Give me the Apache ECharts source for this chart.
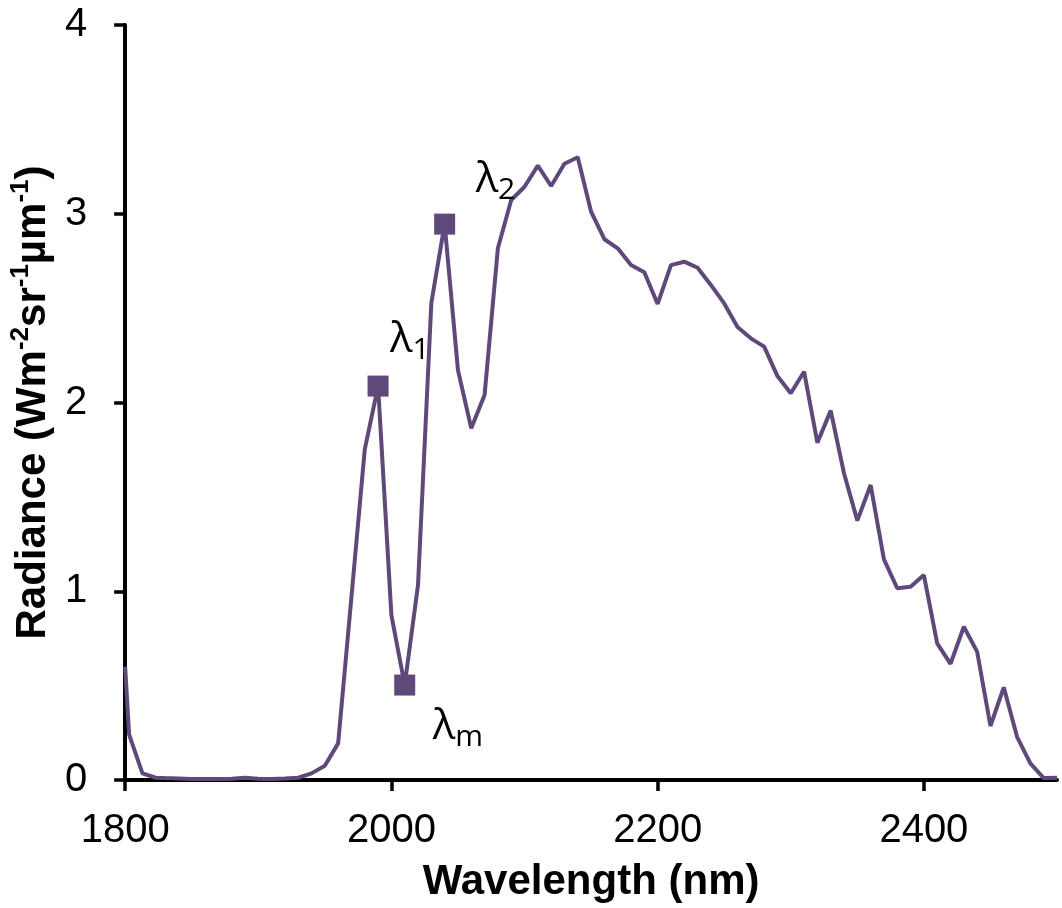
<!DOCTYPE html>
<html>
<head>
<meta charset="utf-8">
<title>Radiance spectrum</title>
<script src="https://cdn.jsdelivr.net/npm/echarts@6/dist/echarts.min.js"></script>
<style>
  html, body { margin: 0; padding: 0; background: #ffffff; }
  #chart { width: 1062px; height: 908px; }
</style>
</head>
<body>
<div id="chart"></div>
<script>
// Wavelength samples (nm)
const wavelengths = [
  1800, 1803, 1813, 1823, 1830, 1840, 1850, 1860, 1870, 1880,
  1890, 1900, 1910, 1920, 1930, 1940, 1950, 1960, 1970, 1980,
  1990, 2000, 2010, 2020, 2030, 2040, 2050, 2060, 2070, 2080,
  2090, 2100, 2110, 2120, 2130, 2140, 2150, 2160, 2170, 2180,
  2190, 2200, 2210, 2220, 2230, 2240, 2250, 2260, 2270, 2280,
  2290, 2300, 2310, 2320, 2330, 2340, 2350, 2360, 2370, 2380,
  2390, 2400, 2410, 2420, 2430, 2440, 2450, 2460, 2470, 2480,
  2490, 2500
];

// Radiance (W m-2 sr-1 um-1)
const radiance = [
  0.60, 0.24, 0.035, 0.012, 0.010, 0.008, 0.005, 0.005, 0.005, 0.006,
  0.012, 0.006, 0.005, 0.008, 0.012, 0.035, 0.076, 0.194, 0.97, 1.752,
  2.087, 0.874, 0.503, 1.033, 2.527, 2.945, 2.172, 1.863, 2.040, 2.817,
  3.073, 3.143, 3.255, 3.147, 3.265, 3.299, 3.011, 2.865, 2.817, 2.728,
  2.690, 2.522, 2.728, 2.746, 2.714, 2.623, 2.525, 2.400, 2.340, 2.296,
  2.140, 2.049, 2.163, 1.787, 1.957, 1.625, 1.374, 1.563, 1.169, 1.016,
  1.024, 1.086, 0.724, 0.615, 0.812, 0.680, 0.286, 0.491, 0.229, 0.088,
  0.010, 0.012
];

// Highlighted band wavelengths and their labels
const markedWavelengths = [1990, 2040, 2010];
const markedNames = ['1', '2', 'm'];

// Axis ticks
const xTicks = [1800, 2000, 2200, 2400];
const yTicks = [0, 1, 2, 3, 4];

const lineColor = '#5f497a';

const spectrum = wavelengths.map((w, i) => [w, radiance[i]]);
const markers = markedWavelengths.map((w, k) => {
  const i = wavelengths.indexOf(w);
  return { value: [w, radiance[i]], name: markedNames[k] };
});

// label placement next to each marker (pixels)
const labelOffsets = {
  '1': [12, -67],
  '2': [31, -65],
  'm': [28, 21]
};

const chart = echarts.init(document.getElementById('chart'), null, { renderer: 'canvas' });

const axisTextFont = 'Liberation Sans, Arial, sans-serif';
const greekFont = 'Open Sans, Noto Sans, sans-serif';

chart.setOption({
  animation: false,
  backgroundColor: '#ffffff',
  grid: { left: 123, right: 5, top: 25, bottom: 128, containLabel: false },
  xAxis: {
    type: 'value',
    min: 1800,
    max: 2500,
    interval: 200,
    name: 'Wavelength (nm)',
    nameLocation: 'middle',
    nameGap: 81,
    nameTextStyle: {
      fontFamily: axisTextFont, fontSize: 42, fontWeight: 'bold', color: '#000000'
    },
    axisLine: { show: true, onZero: false, lineStyle: { color: '#000000', width: 4 } },
    axisTick: { show: true, inside: false, length: 11, lineStyle: { color: '#000000', width: 3.5 },
                customValues: xTicks },
    axisLabel: { fontFamily: axisTextFont, fontSize: 40, color: '#000000', margin: 31,
                 customValues: xTicks, formatter: (v) => String(v) },
    splitLine: { show: false }
  },
  yAxis: {
    type: 'value',
    min: 0,
    max: 4,
    interval: 1,
    name: '{m|Radiance (Wm}{s|-2}{m|sr}{s|-1}{m|µm}{s|-1}{m|)}',
    nameLocation: 'middle',
    nameRotate: 90,
    nameGap: 67,
    nameTextStyle: {
      fontFamily: axisTextFont, fontSize: 42, fontWeight: 'bold', color: '#000000',
      rich: {
        m: { fontFamily: axisTextFont, fontSize: 42, fontWeight: 'bold', color: '#000000',
             lineHeight: 46, verticalAlign: 'bottom' },
        s: { fontFamily: axisTextFont, fontSize: 26, fontWeight: 'bold', color: '#000000',
             lineHeight: 26, verticalAlign: 'top' }
      }
    },
    axisLine: { show: true, lineStyle: { color: '#000000', width: 4 } },
    axisTick: { show: true, inside: false, length: 11, lineStyle: { color: '#000000', width: 3.5 },
                customValues: yTicks },
    axisLabel: { fontFamily: axisTextFont, fontSize: 40, color: '#000000', margin: 38,
                 customValues: yTicks, formatter: (v) => String(v) },
    splitLine: { show: false }
  },
  series: [
    {
      type: 'line',
      data: spectrum,
      showSymbol: false,
      symbol: 'none',
      lineStyle: { color: lineColor, width: 4, opacity: 1 },
      itemStyle: { color: lineColor },
      clip: true,
      z: 2
    },
    {
      type: 'scatter',
      data: markers,
      symbol: 'rect',
      symbolSize: 21,
      itemStyle: { color: lineColor, opacity: 1 },
      z: 3,
      label: {
        show: true,
        position: 'inside',
        align: 'left',
        verticalAlign: 'top',
        color: '#000000',
        formatter: (p) => '{l|λ}{s|' + p.name + '}',
        rich: {
          l: { fontFamily: greekFont, fontSize: 42, color: '#000000',
               lineHeight: 46, verticalAlign: 'top' },
          s: { fontFamily: greekFont, fontSize: 30, color: '#000000',
               lineHeight: 30, padding: [25, 0, 0, 0], verticalAlign: 'bottom' }
        }
      },
      labelLayout: (params) => {
        const name = markers[params.dataIndex].name;
        const off = labelOffsets[name];
        return {
          x: params.rect.x + params.rect.width / 2 + off[0],
          y: params.rect.y + params.rect.height / 2 + off[1],
          align: 'left',
          verticalAlign: 'top'
        };
      }
    }
  ]
});
</script>
</body>
</html>
